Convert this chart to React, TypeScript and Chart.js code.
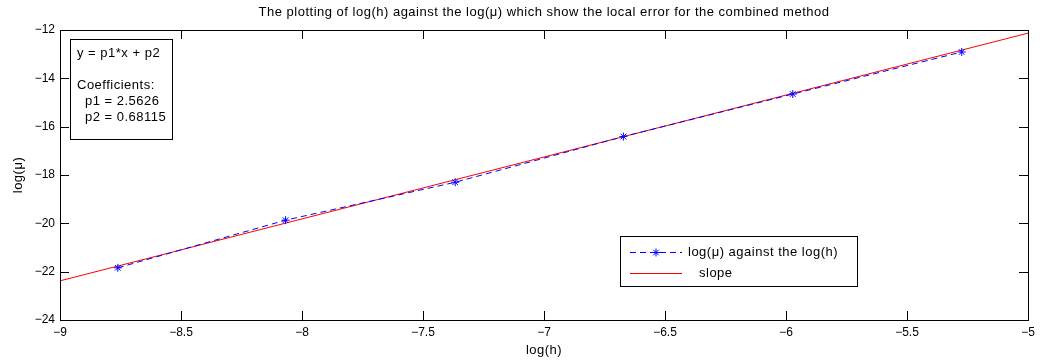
import React, { useEffect, useRef } from 'react';
import { Chart, registerables } from 'chart.js';
Chart.register(...registerables);

// ---- data ----
const logH = [-8.761, -8.068, -7.367, -6.672, -5.972, -5.274];
const logMu = [-21.84, -19.87, -18.3, -16.41, -14.65, -12.91];
const slopeX = [-9, -5];
const slopeY = [-22.38, -12.13];
const xTickValues = [-9, -8.5, -8, -7.5, -7, -6.5, -6, -5.5, -5];
const yTickValues = [-24, -22, -20, -18, -16, -14, -12];
const titleText = 'The plotting of log(h) against the log(\u03bc) which show the local error for the combined method';
const xAxisTitle = 'log(h)';
const yAxisTitle = 'log(\u03bc)';
const seriesNames = ['log(\u03bc) against the log(h)', 'slope'];
const fitLines = ['y = p1*x + p2', '', 'Coefficients:', '  p1 = 2.5626', '  p2 = 0.68115'];

const FONT = '"Liberation Sans", Arial, Helvetica, sans-serif';
const BLUE = 'rgb(0,0,255)';
const RED = 'rgb(255,0,0)';

const fmt = (v: number) => (v < 0 ? '\u2212' + String(Math.abs(v)) : String(v));

function drawStar(ctx: CanvasRenderingContext2D, x: number, y: number, r: number) {
  ctx.beginPath();
  ctx.moveTo(x - r, y); ctx.lineTo(x + r, y);
  ctx.moveTo(x, y - r); ctx.lineTo(x, y + r);
  const d = r * Math.SQRT1_2;
  ctx.moveTo(x - d, y - d); ctx.lineTo(x + d, y + d);
  ctx.moveTo(x - d, y + d); ctx.lineTo(x + d, y - d);
  ctx.stroke();
}

const decorPlugin = {
  id: 'decor',
  afterDraw(chart: any) {
    const ctx: any = chart.ctx;
    const ca = chart.chartArea;
    const xs = chart.scales.x;
    const ys = chart.scales.y;
    ctx.save();
    ctx.strokeStyle = '#000';
    ctx.lineWidth = 1;
    const TL = 9;
    // ticks inward on all sides
    ctx.beginPath();
    for (const v of xTickValues) {
      const px = Math.round(xs.getPixelForValue(v)) + 0.5;
      ctx.moveTo(px, ca.bottom); ctx.lineTo(px, ca.bottom - TL);
      ctx.moveTo(px, ca.top); ctx.lineTo(px, ca.top + TL);
    }
    for (const v of yTickValues) {
      const py = Math.round(ys.getPixelForValue(v)) + 0.5;
      ctx.moveTo(ca.left, py); ctx.lineTo(ca.left + TL, py);
      ctx.moveTo(ca.right, py); ctx.lineTo(ca.right - TL, py);
    }
    ctx.stroke();
    // frame
    ctx.strokeRect(Math.round(ca.left) + 0.5, Math.round(ca.top) + 0.5,
      Math.round(ca.right - ca.left), Math.round(ca.bottom - ca.top));

    ctx.fillStyle = '#000';
    ctx.font = '13px ' + FONT;
    ctx.letterSpacing = '0.5px';
    // title
    ctx.textAlign = 'center';
    ctx.textBaseline = 'middle';
    ctx.fillText(titleText, (ca.left + ca.right) / 2, 12);
    // x axis title
    ctx.fillText(xAxisTitle, (ca.left + ca.right) / 2, 350);
    // y axis title
    ctx.save();
    ctx.translate(18, (ca.top + ca.bottom) / 2);
    ctx.rotate(-Math.PI / 2);
    ctx.fillText(yAxisTitle, 0, 0);
    ctx.restore();

    // fit text box
    ctx.fillStyle = '#fff';
    ctx.fillRect(70.5, 39.5, 102, 100);
    ctx.strokeRect(70.5, 39.5, 102, 100);
    ctx.fillStyle = '#000';
    ctx.textAlign = 'left';
    fitLines.forEach((t, i) => {
      ctx.fillText(t.replace(/^  /, ''), t.startsWith('  ') ? 85 : 77, 53 + i * 16);
    });

    // legend
    ctx.fillStyle = '#fff';
    ctx.fillRect(620.5, 236.5, 237, 50);
    ctx.strokeRect(620.5, 236.5, 237, 50);
    ctx.fillStyle = '#000';
    // blue dashed sample
    ctx.strokeStyle = BLUE;
    ctx.setLineDash([6, 4]);
    ctx.beginPath();
    ctx.moveTo(630, 252.5); ctx.lineTo(682, 252.5);
    ctx.stroke();
    ctx.setLineDash([]);
    drawStar(ctx, 656, 252.5, 4);
    ctx.fillText(seriesNames[0], 688, 252);
    ctx.strokeStyle = RED;
    ctx.beginPath();
    ctx.moveTo(630, 273.5); ctx.lineTo(682, 273.5);
    ctx.stroke();
    ctx.fillText(seriesNames[1], 699, 273);
    ctx.restore();
  },
};

export default function App() {
  const ref = useRef<HTMLCanvasElement | null>(null);
  useEffect(() => {
    document.body.style.margin = '0';
    const canvas = ref.current!;
    const chart = new Chart(canvas, {
      type: 'line',
      data: {
        datasets: [
          {
            label: seriesNames[0],
            data: logH.map((x, i) => ({ x, y: logMu[i] })),
            borderColor: BLUE,
            backgroundColor: BLUE,
            borderWidth: 1,
            borderDash: [6, 4],
            pointStyle: 'star',
            pointRadius: 4,
            pointBorderWidth: 1,
            pointBorderColor: BLUE,
            fill: false,
            tension: 0,
          },
          {
            label: seriesNames[1],
            data: slopeX.map((x, i) => ({ x, y: slopeY[i] })),
            borderColor: RED,
            backgroundColor: RED,
            borderWidth: 1,
            pointRadius: 0,
            fill: false,
            tension: 0,
          },
        ],
      },
      options: {
        animation: false,
        responsive: false,
        devicePixelRatio: 1,
        layout: { padding: { top: 30, right: 20, left: 0, bottom: 0 } },
        plugins: { legend: { display: false }, title: { display: false }, tooltip: { enabled: false } },
        scales: {
          x: {
            type: 'linear',
            min: -9,
            max: -5,
            grid: { display: false, drawTicks: false },
            border: { display: false },
            afterBuildTicks: (s: any) => { s.ticks = xTickValues.map((v) => ({ value: v })); },
            afterFit: (s: any) => { s.height = 40; },
            ticks: {
              color: '#000',
              font: { family: FONT, size: 12 },
              padding: 5,
              maxRotation: 0,
              autoSkip: false,
              callback: (v: any) => fmt(Number(v)),
            },
          },
          y: {
            type: 'linear',
            min: -24,
            max: -12,
            grid: { display: false, drawTicks: false },
            border: { display: false },
            afterBuildTicks: (s: any) => { s.ticks = yTickValues.map((v) => ({ value: v })); },
            afterFit: (s: any) => { s.width = 60; },
            ticks: {
              color: '#000',
              font: { family: FONT, size: 12 },
              padding: 5,
              autoSkip: false,
              callback: (v: any) => fmt(Number(v)),
            },
          },
        },
      } as any,
      plugins: [decorPlugin],
    });
    return () => chart.destroy();
  }, []);
  return <canvas ref={ref} width={1048} height={360} style={{ display: 'block', width: 1048, height: 360 }} />;
}
